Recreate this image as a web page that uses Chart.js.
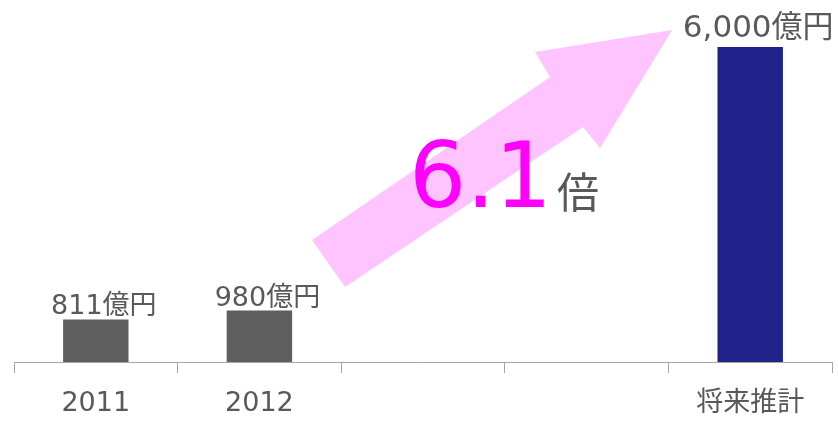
<!DOCTYPE html>
<html>
<head>
<meta charset="utf-8">
<script src="https://cdn.jsdelivr.net/npm/chart.js@4/dist/chart.umd.min.js"></script>
<style>
  html, body { margin: 0; padding: 0; background: #ffffff; }
  #wrap { width: 838px; height: 422px; }
</style>
</head>
<body>
<div id="wrap"><canvas id="salesChart"></canvas></div>
<script>
// データ
const categories = ['2011', '2012', '', '', '将来推計'];
const values = [811, 980, null, null, 6000];
const barColors = ['#5f5f5f', '#5f5f5f', '#5f5f5f', '#5f5f5f', '#21218a'];
const unitLabel = '億円';
const ratioText = '6.1';
const ratioUnit = '倍';

const FONT = '"DejaVu Sans", "Noto Sans CJK JP", sans-serif';
const TEXT_GRAY = '#595959';

// 矢印と倍率
const arrowPlugin = {
    id: 'arrow',
    beforeDatasetsDraw(chart) {
        const ctx = chart.ctx;
        const a = chart.chartArea;
        const ox = a.left, oy = a.top;
        const pts = [
            [298, 193], [536, 30], [521, 5], [658, -17],
            [586, 101], [569, 80], [331, 240]
        ];
        ctx.save();
        ctx.fillStyle = '#ffc4ff';
        ctx.beginPath();
        pts.forEach(function(p, i) {
            if (i === 0) ctx.moveTo(ox + p[0], oy + p[1]);
            else ctx.lineTo(ox + p[0], oy + p[1]);
        });
        ctx.closePath();
        ctx.fill();
        ctx.restore();
    },
    afterDatasetsDraw(chart) {
        const ctx = chart.ctx;
        const a = chart.chartArea;
        ctx.save();
        ctx.textBaseline = 'alphabetic';
        ctx.textAlign = 'left';
        ctx.fillStyle = '#ff00ff';
        ctx.font = '90px ' + FONT;
        ctx.fillText(ratioText, a.left + 395, a.top + 160);
        ctx.fillStyle = TEXT_GRAY;
        ctx.font = '42px ' + FONT;
        ctx.fillText(ratioUnit, a.left + 543, a.top + 161);

        // 値ラベル
        const meta = chart.getDatasetMeta(0);
        meta.data.forEach(function(bar, i) {
            const v = values[i];
            if (v === null) return;
            const big = i === values.length - 1;
            ctx.font = (big ? '31px ' : '27px ') + FONT;
            ctx.textAlign = 'center';
            ctx.fillText(v.toLocaleString('ja-JP') + unitLabel, bar.x + 8, bar.y - (big ? 10 : 5));
        });
        ctx.restore();
    }
};

document.addEventListener('DOMContentLoaded', function() {
    const ctx = document.getElementById('salesChart').getContext('2d');

    new Chart(ctx, {
        type: 'bar',
        data: {
            labels: categories,
            datasets: [{
                data: values,
                backgroundColor: barColors,
                borderWidth: 0,
                categoryPercentage: 1,
                barPercentage: 0.4
            }]
        },
        options: {
            responsive: true,
            maintainAspectRatio: false,
            animation: false,
            layout: {
                padding: { left: 14, right: 6, top: 47, bottom: 0 }
            },
            plugins: {
                legend: { display: false },
                tooltip: { enabled: false }
            },
            scales: {
                y: {
                    display: false,
                    min: 0,
                    max: 6000
                },
                x: {
                    afterFit: function(scale) {
                        scale.height = 60;
                    },
                    border: { color: '#a6a6a6', width: 1 },
                    grid: {
                        drawOnChartArea: false,
                        drawTicks: true,
                        tickLength: 11,
                        color: '#a6a6a6'
                    },
                    ticks: {
                        color: TEXT_GRAY,
                        padding: 15,
                        font: { family: FONT, size: 27 }
                    }
                }
            }
        },
        plugins: [arrowPlugin]
    });
});
</script>
</body>
</html>
